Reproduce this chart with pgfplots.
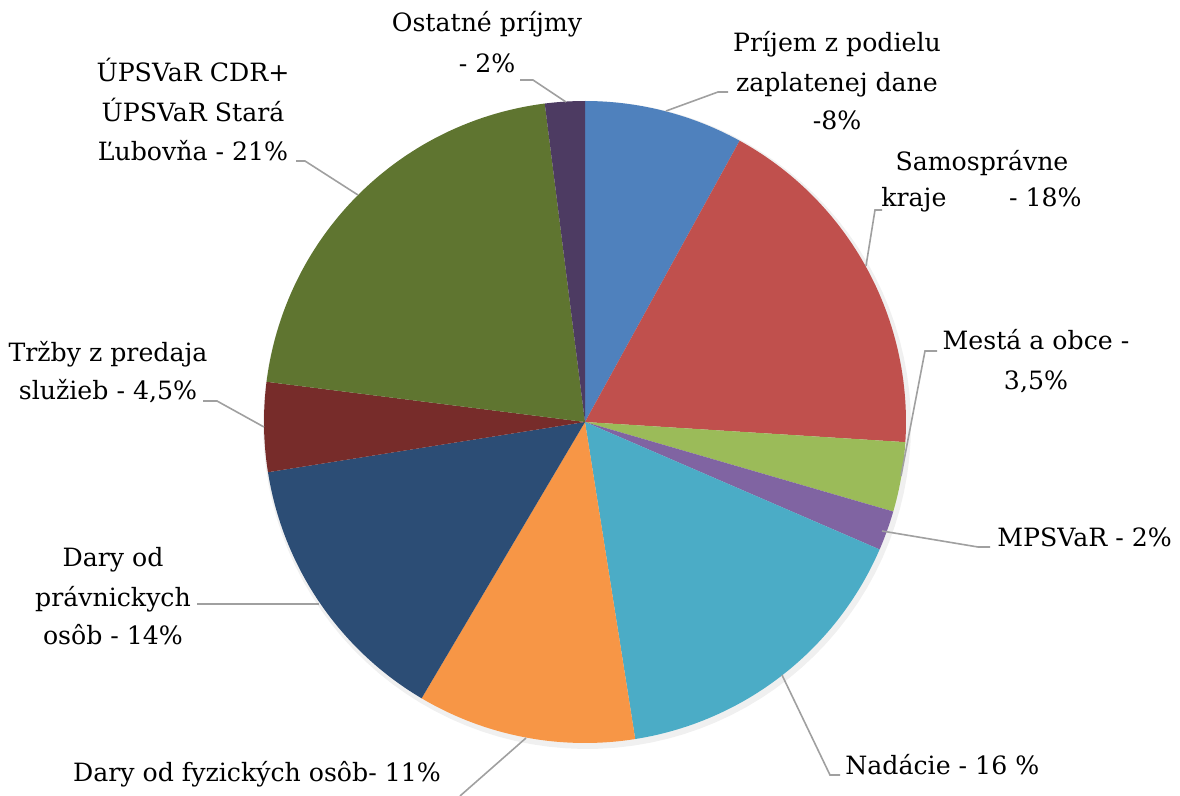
\documentclass[border=0pt]{standalone}
\usepackage{fontspec}
\setmainfont{DejaVu Serif}
\usepackage{pgfplots}
\pgfplotsset{compat=1.18}
\definecolor{c1}{HTML}{4F81BD}
\definecolor{c2}{HTML}{C0504D}
\definecolor{c3}{HTML}{9BBB59}
\definecolor{c4}{HTML}{8064A2}
\definecolor{c5}{HTML}{4BACC6}
\definecolor{c6}{HTML}{F79646}
\definecolor{c7}{HTML}{2C4D75}
\definecolor{c8}{HTML}{772C2A}
\definecolor{c9}{HTML}{5F7530}
\definecolor{c10}{HTML}{4D3B62}
\definecolor{lead}{HTML}{A0A0A0}
% #1 = cumulative start (%), #2 = share (%), #3 = colour
\newcommand{\slice}[3]{%
  \addplot[fill=#3, draw=none, domain={-90+3.6*(#1)}:{-90+3.6*(#1+#2)}, samples=60, variable=\t]
    ({585+321*cos(\t)}, {422+321*sin(\t)}) -- (axis cs:585,422) -- cycle;}
\tikzset{lab/.style={anchor=base, inner sep=0pt, font=\fontsize{12.6}{20}\selectfont, text=black},
         ld/.style={draw=lead, line width=0.8pt}}
\begin{document}
\begin{tikzpicture}
\begin{axis}[hide axis, scale only axis, width=590pt, height=398pt,
  xmin=0, xmax=1180, ymin=0, ymax=796, y dir=reverse, clip=false]
% shadow
\addplot[fill=black, fill opacity=0.06, draw=none, domain=0:360, samples=120, variable=\t]
  ({587+324*cos(\t)}, {425+324*sin(\t)}) -- cycle;
\slice{0}{8}{c1}
\slice{8}{18}{c2}
\slice{26}{3.5}{c3}
\slice{29.5}{2}{c4}
\slice{31.5}{16}{c5}
\slice{47.5}{11}{c6}
\slice{58.5}{14}{c7}
\slice{72.5}{4.5}{c8}
\slice{77}{21}{c9}
\slice{98}{2}{c10}
% leader lines
\draw[ld] (axis cs:520,80) -- (axis cs:533,80) -- (axis cs:566,102);
\draw[ld] (axis cs:666,111) -- (axis cs:718,92) -- (axis cs:728,92);
\draw[ld] (axis cs:866,266) -- (axis cs:875,210) -- (axis cs:882,210);
\draw[ld] (axis cs:901,476) -- (axis cs:925,351) -- (axis cs:937,351);
\draw[ld] (axis cs:882,531) -- (axis cs:978,547) -- (axis cs:990,547);
\draw[ld] (axis cs:782,675) -- (axis cs:830,775) -- (axis cs:840,775);
\draw[ld] (axis cs:526,738) -- (axis cs:460,796);
\draw[ld] (axis cs:197,604) -- (axis cs:319,604);
\draw[ld] (axis cs:203,401) -- (axis cs:217,401) -- (axis cs:264,427);
\draw[ld] (axis cs:296,161) -- (axis cs:305,161) -- (axis cs:358,195);
% labels
\node[lab] at (axis cs:487,32) {Ostatné príjmy};
\node[lab] at (axis cs:487,73) {- 2\%};
\node[lab] at (axis cs:837,52) {Príjem z podielu};
\node[lab] at (axis cs:837,92) {zaplatenej dane};
\node[lab] at (axis cs:837,130) {-8\%};
\node[lab] at (axis cs:982,171) {Samosprávne};
\node[lab, anchor=base west] at (axis cs:881,207) {kraje};
\node[lab, anchor=base east] at (axis cs:1082,207) {- 18\%};
\node[lab] at (axis cs:1036,350) {Mestá a obce -};
\node[lab] at (axis cs:1036,390) {3,5\%};
\node[lab, anchor=base west] at (axis cs:997,547) {MPSVaR - 2\%};
\node[lab, anchor=base west] at (axis cs:845,775) {Nadácie - 16 \%};
\node[lab] at (axis cs:257,782) {Dary od fyzických osôb- 11\%};
\node[lab] at (axis cs:113,567) {Dary od};
\node[lab] at (axis cs:113,607) {právnickych};
\node[lab] at (axis cs:113,645) {osôb - 14\%};
\node[lab] at (axis cs:108,362) {Tržby z predaja};
\node[lab] at (axis cs:108,400) {služieb - 4,5\%};
\node[lab] at (axis cs:193,82) {ÚPSVaR CDR+};
\node[lab] at (axis cs:193,122) {ÚPSVaR Stará};
\node[lab] at (axis cs:193,161) {Ľubovňa - 21\%};
\end{axis}
\pgfresetboundingbox
\useasboundingbox (current axis.south west) rectangle (current axis.north east);
\end{tikzpicture}
\end{document}
